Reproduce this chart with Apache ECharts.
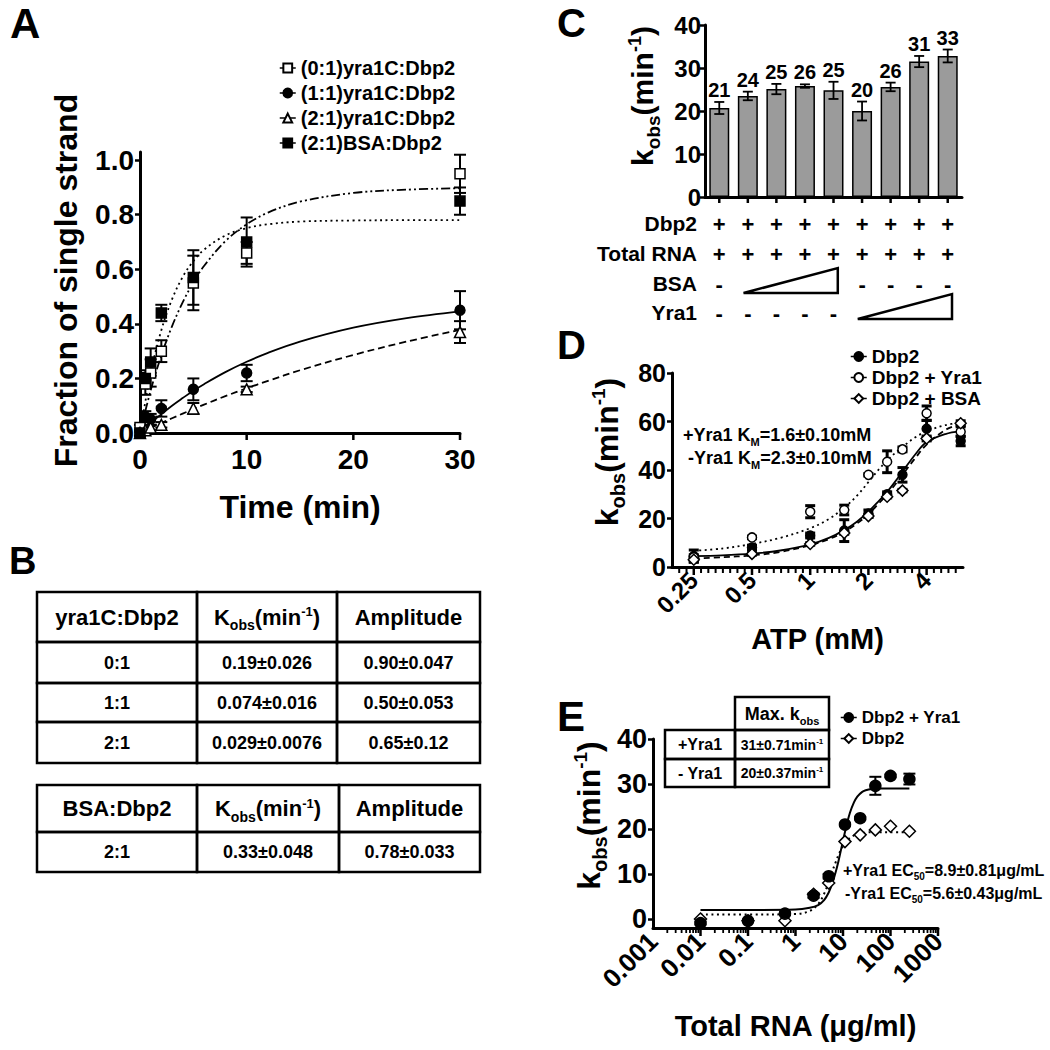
<!DOCTYPE html>
<html>
<head>
<meta charset="utf-8">
<script src="https://cdn.jsdelivr.net/npm/echarts@6/dist/echarts.min.js"></script>
<style>html,body{margin:0;padding:0;background:#fff;}#chart{width:1050px;height:1050px;}</style>
</head>
<body>
<div id="chart"></div>
<script>
// ================= DATA =================
// ---- Panel A : time course ----
const A_SERIES = ['(0:1)yra1C:Dbp2', '(1:1)yra1C:Dbp2', '(2:1)yra1C:Dbp2', '(2:1)BSA:Dbp2'];
const A_TIME = [0, 0.5, 1, 2, 5, 10, 30];
const A_Y_01 = [0.02, 0.18, 0.22, 0.30, 0.55, 0.66, 0.95];
const A_E_01 = [0.01, 0.04, 0.05, 0.04, 0.10, 0.04, 0.07];
const A_Y_11 = [0.00, 0.06, 0.05, 0.09, 0.16, 0.22, 0.45];
const A_E_11 = [0.01, 0.02, 0.02, 0.03, 0.04, 0.03, 0.07];
const A_Y_21 = [0.00, 0.01, 0.02, 0.03, 0.09, 0.16, 0.37];
const A_E_21 = [0.01, 0.01, 0.01, 0.01, 0.02, 0.01, 0.04];
const A_Y_BSA = [0.00, 0.20, 0.26, 0.44, 0.57, 0.70, 0.85];
const A_E_BSA = [0.01, 0.03, 0.05, 0.03, 0.10, 0.09, 0.05];
const A_FIT_T = [0, 1, 2, 3, 4, 5, 6, 8, 10, 12, 15, 20, 25, 30];
const A_FIT_01 = [0, 0.156, 0.284, 0.391, 0.479, 0.552, 0.612, 0.703, 0.765, 0.808, 0.848, 0.880, 0.892, 0.897];
const A_FIT_11 = [0, 0.036, 0.069, 0.100, 0.128, 0.155, 0.179, 0.223, 0.261, 0.294, 0.335, 0.386, 0.421, 0.446];
const A_FIT_21 = [0, 0.019, 0.037, 0.054, 0.071, 0.088, 0.104, 0.135, 0.164, 0.191, 0.230, 0.286, 0.335, 0.378];
const A_FIT_BSA = [0, 0.219, 0.377, 0.490, 0.572, 0.630, 0.672, 0.724, 0.751, 0.765, 0.775, 0.779, 0.780, 0.780];
const A_X_TICKS = [10, 20, 30];
const A_Y_TICKS = [0, 0.2, 0.4, 0.6, 0.8, 1.0];

// ---- Panel B : tables ----
const B_HEAD_1 = ['yra1C:Dbp2', 'K{sub|obs}(min{sup|-1})', 'Amplitude'];
const B_ROWS_1 = [
  ['0:1', '0.19±0.026', '0.90±0.047'],
  ['1:1', '0.074±0.016', '0.50±0.053'],
  ['2:1', '0.029±0.0076', '0.65±0.12']
];
const B_HEAD_2 = ['BSA:Dbp2', 'K{sub|obs}(min{sup|-1})', 'Amplitude'];
const B_ROWS_2 = [['2:1', '0.33±0.048', '0.78±0.033']];

// ---- Panel C : bars ----
const C_CATS = ['1', '2', '3', '4', '5', '6', '7', '8', '9'];
const C_VALUES = [20.7, 23.5, 25.1, 25.8, 24.8, 20.0, 25.6, 31.5, 32.8];
const C_ERR = [1.4, 1.0, 1.2, 0.4, 2.0, 2.2, 1.0, 1.3, 1.5];
const C_LABELS = ['21', '24', '25', '26', '25', '20', '26', '31', '33'];
const C_ROW_NAMES = ['Dbp2', 'Total RNA', 'BSA', 'Yra1'];
const C_DBP2 = ['+', '+', '+', '+', '+', '+', '+', '+', '+'];
const C_TOTAL_RNA = ['+', '+', '+', '+', '+', '+', '+', '+', '+'];
const C_BSA = ['-', '', '', '', '', '-', '-', '-', '-'];
const C_YRA1 = ['-', '-', '-', '-', '-', '', '', '', ''];
const C_TRIANGLES = [[1, 4, 2], [5, 8, 3]]; // [first bar, last bar, row]

// ---- Panel D : ATP titration ----
const D_SERIES = ['Dbp2', 'Dbp2 + Yra1', 'Dbp2 + BSA'];
const D_ATP = [0.25, 0.5, 1, 1.5, 2, 2.5, 3, 4, 6];
const D_DBP2 = [4.5, 8, 13, 15, 22, 30, 38, 57, 52];
const D_DBP2_ERR = [2.5, 1, 1, 4.5, 1.5, 1, 3, 3.5, 2];
const D_YRA1 = [4, 12.2, 22.8, 23.5, 38, 43.4, 48.5, 63.4, 55.8];
const D_YRA1_ERR = [1, 0.5, 2.5, 2, 0.5, 4.5, 1, 3, 2];
const D_BSA = [3, 5.4, 9.5, 14, 21, 29, 31.5, 53, 59.3];
const D_BSA_ERR = [1, 0.5, 0.5, 0.5, 0.5, 0.5, 0.5, 1, 1];
const D_FIT_X = [0.25, 0.35, 0.5, 0.7, 1, 1.25, 1.5, 1.75, 2, 2.25, 2.5, 2.75, 3, 3.5, 4, 5, 6];
const D_FIT_DBP2 = [4.5, 4.8, 5.5, 6.8, 9.3, 12, 15.2, 18.8, 22.8, 27, 31, 35.2, 39.3, 46.5, 51.5, 54.8, 56];
const D_FIT_YRA1 = [6.7, 7.6, 9.5, 12, 16, 19.8, 24.5, 29.5, 35, 40, 44, 47, 49.5, 53.5, 56, 58.5, 59.5];
const D_FIT_BSA = [3.5, 4, 4.8, 6.2, 9, 11.5, 14.5, 18, 21.8, 26, 30, 34, 38, 45, 50.5, 56.5, 59];
const D_X_TICKS = [0.25, 0.5, 1, 2, 4];
const D_X_LABELS = ['0.25', '0.5', '1', '2', '4'];
const D_MINOR_TICKS = [0.2102, 0.2293, 0.2726, 0.2973, 0.3242, 0.3536, 0.3856, 0.4204, 0.4585,
  0.5453, 0.5946, 0.6484, 0.7071, 0.7711, 0.8409, 0.9170, 1.0905, 1.1892, 1.2968, 1.4142, 1.5422,
  1.6818, 1.8340, 2.1810, 2.3784, 2.5937, 2.8284, 3.0844, 3.3636, 3.6680, 4.3620, 4.7568, 5.1874, 5.6569];
const D_NOTES = ['+Yra1 K{sub|M}=1.6±0.10mM', '-Yra1 K{sub|M}=2.3±0.10mM'];

// ---- Panel E : RNA titration ----
const E_SERIES = ['Dbp2 + Yra1 ', 'Dbp2 '];
const E_RNA = [0.01, 0.1, 0.6, 2.4, 5, 11, 23, 48, 100, 250];
const E_YRA1 = [-0.9, -0.4, 1.2, 5.2, 9.5, 21, 22.4, 29.6, 31.8, 31.1];
const E_YRA1_ERR = [0.3, 0.3, 0.3, 0.5, 0.5, 0.3, 0.3, 2, 0.3, 1.2];
const E_DBP2 = [0, -0.4, -0.4, 5.5, 8, 17.2, 18.7, 19.8, 20.6, 19.5];
const E_FIT_X = [0.01, 0.1, 1, 2, 3, 4, 5, 6, 7, 8, 9, 10, 12, 14, 17, 20, 25, 30, 40, 60, 100, 250];
const E_FIT_YRA1 = [2.0, 2.0, 2.1, 2.5, 3.1, 4.2, 5.9, 8.0, 10.4, 12.8, 15.2, 17.4, 21.0, 23.6, 25.9, 27.2, 28.2, 28.6, 28.9, 29.0, 29.0, 29.0];
const E_FIT_DBP2 = [1.0, 1.0, 1.1, 1.8, 3.3, 5.6, 8.2, 10.7, 12.6, 14.2, 15.3, 16.2, 17.4, 18.0, 18.6, 18.9, 19.1, 19.2, 19.3, 19.3, 19.3, 19.3];
const E_X_TICKS = [0.001, 0.01, 0.1, 1, 10, 100, 1000];
const E_X_LABELS = ['0.001', '0.01', '0.1', '1', '10', '100', '1000'];
const E_MINOR_TICKS = [0.002, 0.003, 0.004, 0.005, 0.006, 0.007, 0.008, 0.009,
  0.02, 0.03, 0.04, 0.05, 0.06, 0.07, 0.08, 0.09, 0.2, 0.3, 0.4, 0.5, 0.6, 0.7, 0.8, 0.9,
  2, 3, 4, 5, 6, 7, 8, 9, 20, 30, 40, 50, 60, 70, 80, 90, 200, 300, 400, 500, 600, 700, 800, 900];
const E_Y_MIN = -2;
const E_Y_TICKS = [0, 10, 20, 30, 40];
const E_TABLE_HEAD = 'Max. k{sub|obs}';
const E_TABLE_ROWS = [['+Yra1', '31±0.71min{sup|-1}'], ['- Yra1', '20±0.37min{sup|-1}']];
const E_NOTES = ['+Yra1 EC{sub|50}=8.9±0.81μg/mL', '-Yra1 EC{sub|50}=5.6±0.43μg/mL'];

const PANEL_LETTERS = ['A', 'B', 'C', 'D', 'E'];

// ================= HELPERS =================
const FONT = '"Liberation Sans", Arial, Helvetica, sans-serif';
const K = '#000';
const pairs = (xs, ys) => xs.map((x, i) => [x, ys[i]]);
const triples = (xs, ys, es) => xs.map((x, i) => [x, ys[i], es[i]]);

function rich(size) {
  return {
    sub: { fontSize: Math.round(size * 0.62), fontWeight: 'bold', fontFamily: FONT, color: K, fill: K, padding: [Math.round(size * 0.72), 0, 0, 0] },
    sup: { fontSize: Math.round(size * 0.6), fontWeight: 'bold', fontFamily: FONT, color: K, fill: K, padding: [0, 0, Math.round(size * 0.5), 0] }
  };
}
function tickLabel(size, extra) {
  return Object.assign({ color: K, fontWeight: 'bold', fontFamily: FONT, fontSize: size }, extra || {});
}
function nameStyle(size, extra) {
  return Object.assign({ color: K, fontWeight: 'bold', fontFamily: FONT, fontSize: size, rich: rich(size) }, extra || {});
}
const AXLINE = { show: true, onZero: false, lineStyle: { color: K, width: 3 } };
const AXTICK = (len) => ({ show: true, length: len, lineStyle: { color: K, width: 2.5 } });
const NOTICK = { show: false };

function errRender(capHalf, lw, labels, labelSize) {
  return function (params, api) {
    const x = api.value(0), y = api.value(1), e = api.value(2);
    const top = api.coord([x, y + e]);
    const bot = api.coord([x, y - e]);
    const st = { stroke: K, lineWidth: lw };
    const children = [
      { type: 'line', shape: { x1: top[0], y1: top[1], x2: bot[0], y2: bot[1] }, style: st },
      { type: 'line', shape: { x1: top[0] - capHalf, y1: top[1], x2: top[0] + capHalf, y2: top[1] }, style: st },
      { type: 'line', shape: { x1: bot[0] - capHalf, y1: bot[1], x2: bot[0] + capHalf, y2: bot[1] }, style: st }
    ];
    if (labels) {
      children.push({ type: 'text', style: { text: labels[params.dataIndex], x: top[0], y: top[1] - 2, align: 'center', verticalAlign: 'bottom', fontSize: labelSize, fontWeight: 'bold', fontFamily: FONT, fill: K } });
    }
    return { type: 'group', children };
  };
}

function gText(x, y, text, size, align, extraRich) {
  return {
    type: 'text', x, y, z: 10,
    style: { text, fontSize: size, fontWeight: 'bold', fontFamily: FONT, fill: K, align: align || 'center', verticalAlign: 'middle', rich: extraRich || rich(size) }
  };
}
function gRect(x0, y0, x1, y1) {
  return { type: 'rect', z: 9, shape: { x: x0, y: y0, width: x1 - x0, height: y1 - y0 }, style: { fill: 'none', stroke: K, lineWidth: 2.5 } };
}
function table(colX, rowY, head, rows, headSize, bodySize) {
  const out = [];
  const all = [head].concat(rows);
  all.forEach((row, r) => {
    row.forEach((cell, c) => {
      out.push(gRect(colX[c], rowY[r], colX[c + 1], rowY[r + 1]));
      out.push(gText((colX[c] + colX[c + 1]) / 2, (rowY[r] + rowY[r + 1]) / 2, cell, r === 0 ? headSize : bodySize));
    });
  });
  return out;
}

// ================= GRAPHICS (tables, notes, letters, row names) =================
const graphics = [];
graphics.push(gText(10, 23, PANEL_LETTERS[0], 42, 'left'));
graphics.push(gText(9, 561, PANEL_LETTERS[1], 38, 'left'));
graphics.push(gText(557, 23, PANEL_LETTERS[2], 40, 'left'));
graphics.push(gText(557, 345, PANEL_LETTERS[3], 40, 'left'));
graphics.push(gText(557, 716, PANEL_LETTERS[4], 42, 'left'));
table([37, 197, 337, 480], [592, 642, 683, 722, 763], B_HEAD_1, B_ROWS_1, 22, 18).forEach(g => graphics.push(g));
table([37, 197, 339, 480], [785, 832, 872], B_HEAD_2, B_ROWS_2, 22, 18).forEach(g => graphics.push(g));
// E inset table
graphics.push(gRect(735, 697, 829, 730));
graphics.push(gText(782, 714, E_TABLE_HEAD, 18));
E_TABLE_ROWS.forEach((row, r) => {
  const y0 = [730, 759][r], y1 = [759, 787][r];
  graphics.push(gRect(665, y0, 735, y1));
  graphics.push(gRect(735, y0, 829, y1));
  graphics.push(gText(700, (y0 + y1) / 2, row[0], 16));
  graphics.push(gText(782, (y0 + y1) / 2, row[1], 14));
});
graphics.push(gText(683, 435, D_NOTES[0], 18, 'left'));
graphics.push(gText(688, 458, D_NOTES[1], 18, 'left'));
graphics.push(gText(843, 870, E_NOTES[0], 16, 'left'));
graphics.push(gText(845, 893, E_NOTES[1], 16, 'left'));
C_ROW_NAMES.forEach((n, i) => graphics.push(gText(697, [223, 253, 283, 312][i], n, 21, 'right')));

// ================= AXES =================
function rowAxis(data, offset) {
  return {
    gridIndex: 1, type: 'category', data, position: 'bottom', offset,
    axisLine: { show: false, onZero: false }, axisTick: NOTICK, splitLine: { show: false },
    axisLabel: tickLabel(22, { margin: 0, interval: 0 })
  };
}
function logFormatter(ticks, labels) {
  return function (v) {
    for (let i = 0; i < ticks.length; i++) {
      if (Math.abs(Math.log(v) - Math.log(ticks[i])) < 1e-6) return labels[i];
    }
    return '';
  };
}

const xAxis = [
  { gridIndex: 0, type: 'value', min: 0, max: 30, interval: 10, axisLine: AXLINE, axisTick: NOTICK, splitLine: { show: false },
    axisLabel: tickLabel(28, { margin: 12 }),
    name: 'Time (min)', nameLocation: 'middle', nameGap: 58, nameTextStyle: nameStyle(32) },
  { gridIndex: 1, type: 'category', data: C_CATS, position: 'bottom', axisLine: AXLINE, axisTick: NOTICK,
    axisLabel: { show: false }, splitLine: { show: false } },
  rowAxis(C_DBP2, 16),
  rowAxis(C_TOTAL_RNA, 46),
  rowAxis(C_BSA, 76),
  rowAxis(C_YRA1, 105),
  { gridIndex: 2, type: 'log', logBase: 2, min: 0.1929, max: 6.169, position: 'bottom', axisLine: AXLINE, axisTick: NOTICK, splitLine: { show: false },
    axisLabel: tickLabel(24, { rotate: 45, margin: 9, formatter: logFormatter(D_X_TICKS, D_X_LABELS) }),
    name: 'ATP (mM)', nameLocation: 'middle', nameGap: 57, nameTextStyle: nameStyle(29) },
  { gridIndex: 3, type: 'log', logBase: 10, min: 0.001, max: 1000, position: 'bottom', axisLine: AXLINE, axisTick: NOTICK, splitLine: { show: false },
    axisLabel: tickLabel(26, { rotate: 45, margin: 9, formatter: logFormatter(E_X_TICKS, E_X_LABELS) }),
    name: 'Total RNA (μg/ml)', nameLocation: 'middle', nameGap: 83, nameTextStyle: nameStyle(29) }
];

const kName = 'k{sub|obs}(min{sup|-1})';
const yAxis = [
  { gridIndex: 0, type: 'value', min: 0, max: 1.03, axisLine: AXLINE, splitLine: { show: false },
    axisTick: Object.assign(AXTICK(5), { customValues: A_Y_TICKS }),
    axisLabel: tickLabel(28, { margin: 6, customValues: A_Y_TICKS, formatter: v => v.toFixed(1) }),
    name: 'Fraction of single strand', nameLocation: 'middle', nameRotate: 90, nameGap: 58, nameTextStyle: nameStyle(32, { padding: [0, 0, 0, 24] }) },
  { gridIndex: 1, type: 'value', min: 0, max: 40, interval: 10, axisLine: AXLINE, axisTick: AXTICK(5), splitLine: { show: false },
    axisLabel: tickLabel(24, { margin: 4 }),
    name: kName, nameLocation: 'middle', nameRotate: 90, nameGap: 42, nameTextStyle: nameStyle(30, { padding: [0, 0, 0, 30] }) },
  { gridIndex: 2, type: 'value', min: 0, max: 80, interval: 20, axisLine: AXLINE, axisTick: AXTICK(5), splitLine: { show: false },
    axisLabel: tickLabel(25, { margin: 6 }),
    name: kName, nameLocation: 'middle', nameRotate: 90, nameGap: 44, nameTextStyle: nameStyle(32, { padding: [0, 0, 0, 36] }) },
  { gridIndex: 3, type: 'value', min: E_Y_MIN, max: 40, axisLine: AXLINE, splitLine: { show: false },
    axisTick: Object.assign(AXTICK(5), { customValues: E_Y_TICKS }),
    axisLabel: tickLabel(27, { margin: 6, customValues: E_Y_TICKS }),
    name: kName, nameLocation: 'middle', nameRotate: 90, nameGap: 43, nameTextStyle: nameStyle(32, { padding: [0, 0, 0, 36] }) }
];

// ================= SERIES =================
function dataSeries(name, xi, yi, data, symbol, size, filled) {
  return {
    name, type: 'line', xAxisIndex: xi, yAxisIndex: yi, data, symbol, symbolSize: size, showSymbol: true,
    lineStyle: { opacity: 0, width: 0 },
    itemStyle: { color: filled ? K : '#fff', borderColor: K, borderWidth: 1.5, opacity: 1 },
    z: 6, silent: true
  };
}
function fitSeries(name, xi, yi, data, type, width) {
  return {
    name, type: 'line', xAxisIndex: xi, yAxisIndex: yi, data, showSymbol: false, symbol: 'none', smooth: 0.35,
    lineStyle: { color: K, width: width || 1.8, type }, z: 3, silent: true
  };
}
function errSeries(xi, yi, data, cap, lw, labels, labelSize) {
  return {
    type: 'custom', xAxisIndex: xi, yAxisIndex: yi, data, renderItem: errRender(cap, lw, labels, labelSize), z: 4, clip: false, silent: true
  };
}
// axis tick marks drawn below an x axis at the axis' base value
function tickSeries(xi, yi, positions, base, len, lw) {
  return {
    type: 'custom', xAxisIndex: xi, yAxisIndex: yi, data: positions.map(p => [p, base]), clip: false, silent: true, z: 7,
    renderItem: function (params, api) {
      const p = api.coord([api.value(0), api.value(1)]);
      return { type: 'line', shape: { x1: p[0], y1: p[1] + 1, x2: p[0], y2: p[1] + len }, style: { stroke: K, lineWidth: lw } };
    }
  };
}

const series = [
  // Panel A
  fitSeries('fitA01', 0, 0, pairs(A_FIT_T, A_FIT_01), [9, 3, 2, 3, 2, 3]),
  fitSeries('fitA11', 0, 0, pairs(A_FIT_T, A_FIT_11), 'solid'),
  fitSeries('fitA21', 0, 0, pairs(A_FIT_T, A_FIT_21), [7, 4]),
  fitSeries('fitABSA', 0, 0, pairs(A_FIT_T, A_FIT_BSA), [2, 3.5]),
  errSeries(0, 0, triples(A_TIME, A_Y_01, A_E_01), 6, 2),
  errSeries(0, 0, triples(A_TIME, A_Y_11, A_E_11), 6, 2),
  errSeries(0, 0, triples(A_TIME, A_Y_21, A_E_21), 6, 2),
  errSeries(0, 0, triples(A_TIME, A_Y_BSA, A_E_BSA), 6, 2),
  dataSeries(A_SERIES[0], 0, 0, pairs(A_TIME, A_Y_01), 'rect', 10, false),
  dataSeries(A_SERIES[1], 0, 0, pairs(A_TIME, A_Y_11), 'circle', 10, true),
  dataSeries(A_SERIES[2], 0, 0, pairs(A_TIME, A_Y_21), 'triangle', 11, false),
  dataSeries(A_SERIES[3], 0, 0, pairs(A_TIME, A_Y_BSA), 'rect', 10, true),
  tickSeries(0, 0, A_X_TICKS, 0, 7, 2.5),
  // Panel C
  { type: 'bar', xAxisIndex: 1, yAxisIndex: 1, data: C_VALUES, barWidth: '70%',
    itemStyle: { color: '#9b9b9b', borderColor: K, borderWidth: 1.5 }, z: 2, silent: true },
  errSeries(1, 1, C_VALUES.map((v, i) => [i, v, C_ERR[i]]), 5, 1.8, C_LABELS, 20),
  tickSeries(1, 1, C_CATS.map((c, i) => i), 0, 6, 2.5),
  { type: 'custom', xAxisIndex: 1, yAxisIndex: 1, data: C_TRIANGLES, clip: false, silent: true, z: 5,
    renderItem: function (params, api) {
      const s = api.value(0), e = api.value(1), r = api.value(2);
      const bw = api.size([1, 0])[0];
      const y0 = api.coord([0, 0])[1];
      const yb = y0 + 96 + 26 * (r - 2), yt = yb - 25;
      const xl = api.coord([s, 0])[0] - 0.15 * bw, xr = api.coord([e, 0])[0] + 0.15 * bw;
      return { type: 'polygon', shape: { points: [[xl, yb], [xr, yt], [xr, yb]] }, style: { fill: '#fff', stroke: K, lineWidth: 2.5 } };
    } },
  // Panel D
  fitSeries('fitDDbp2', 6, 2, pairs(D_FIT_X, D_FIT_DBP2), 'solid'),
  fitSeries('fitDYra1', 6, 2, pairs(D_FIT_X, D_FIT_YRA1), [2, 3.5]),
  fitSeries('fitDBSA', 6, 2, pairs(D_FIT_X, D_FIT_BSA), [6, 4]),
  errSeries(6, 2, triples(D_ATP, D_DBP2, D_DBP2_ERR), 5, 3),
  errSeries(6, 2, triples(D_ATP, D_YRA1, D_YRA1_ERR), 5, 3),
  errSeries(6, 2, triples(D_ATP, D_BSA, D_BSA_ERR), 5, 3),
  dataSeries(D_SERIES[0], 6, 2, pairs(D_ATP, D_DBP2), 'circle', 9, true),
  dataSeries(D_SERIES[1], 6, 2, pairs(D_ATP, D_YRA1), 'circle', 9, false),
  dataSeries(D_SERIES[2], 6, 2, pairs(D_ATP, D_BSA), 'diamond', 11, false),
  tickSeries(6, 2, D_X_TICKS, 0, 8, 2.5),
  tickSeries(6, 2, D_MINOR_TICKS, 0, 6, 2),
  // Panel E
  fitSeries('fitEYra1', 7, 3, pairs(E_FIT_X, E_FIT_YRA1), 'solid', 2),
  fitSeries('fitEDbp2', 7, 3, pairs(E_FIT_X, E_FIT_DBP2), [2, 3.5], 2),
  errSeries(7, 3, triples(E_RNA, E_YRA1, E_YRA1_ERR), 6, 2),
  dataSeries(E_SERIES[1], 7, 3, pairs(E_RNA, E_DBP2), 'diamond', 12, false),
  dataSeries(E_SERIES[0], 7, 3, pairs(E_RNA, E_YRA1), 'circle', 11, true),
  tickSeries(7, 3, E_X_TICKS.slice(1), E_Y_MIN, 8, 2.5),
  tickSeries(7, 3, E_MINOR_TICKS, E_Y_MIN, 5, 1.8)
];

function legendCfg(names, left, top, size, gap) {
  return {
    data: names, orient: 'vertical', left, top, itemGap: gap, itemWidth: 16, itemHeight: 11, selectedMode: false,
    textStyle: { color: K, fontWeight: 'bold', fontFamily: FONT, fontSize: size },
    lineStyle: { color: K, width: 1.5, opacity: 1, type: 'solid' }
  };
}

const option = {
  animation: false,
  backgroundColor: '#fff',
  grid: [
    { left: 140, top: 152, width: 320, height: 281, outerBoundsMode: 'none' },
    { left: 705, top: 25, width: 257, height: 172, outerBoundsMode: 'none' },
    { left: 672, top: 373, width: 291, height: 194, outerBoundsMode: 'none' },
    { left: 653, top: 739, width: 285, height: 189, outerBoundsMode: 'none' }
  ],
  xAxis, yAxis, series,
  legend: [
    legendCfg(A_SERIES, 274, 53, 20, 5),
    legendCfg(D_SERIES, 845, 342, 19, 2),
    legendCfg(E_SERIES.slice(), 835, 704, 17, 4)
  ],
  graphic: graphics
};

const chart = echarts.init(document.getElementById('chart'), null, { renderer: 'svg', width: 1050, height: 1050 });
chart.setOption(option);
</script>
</body>
</html>
